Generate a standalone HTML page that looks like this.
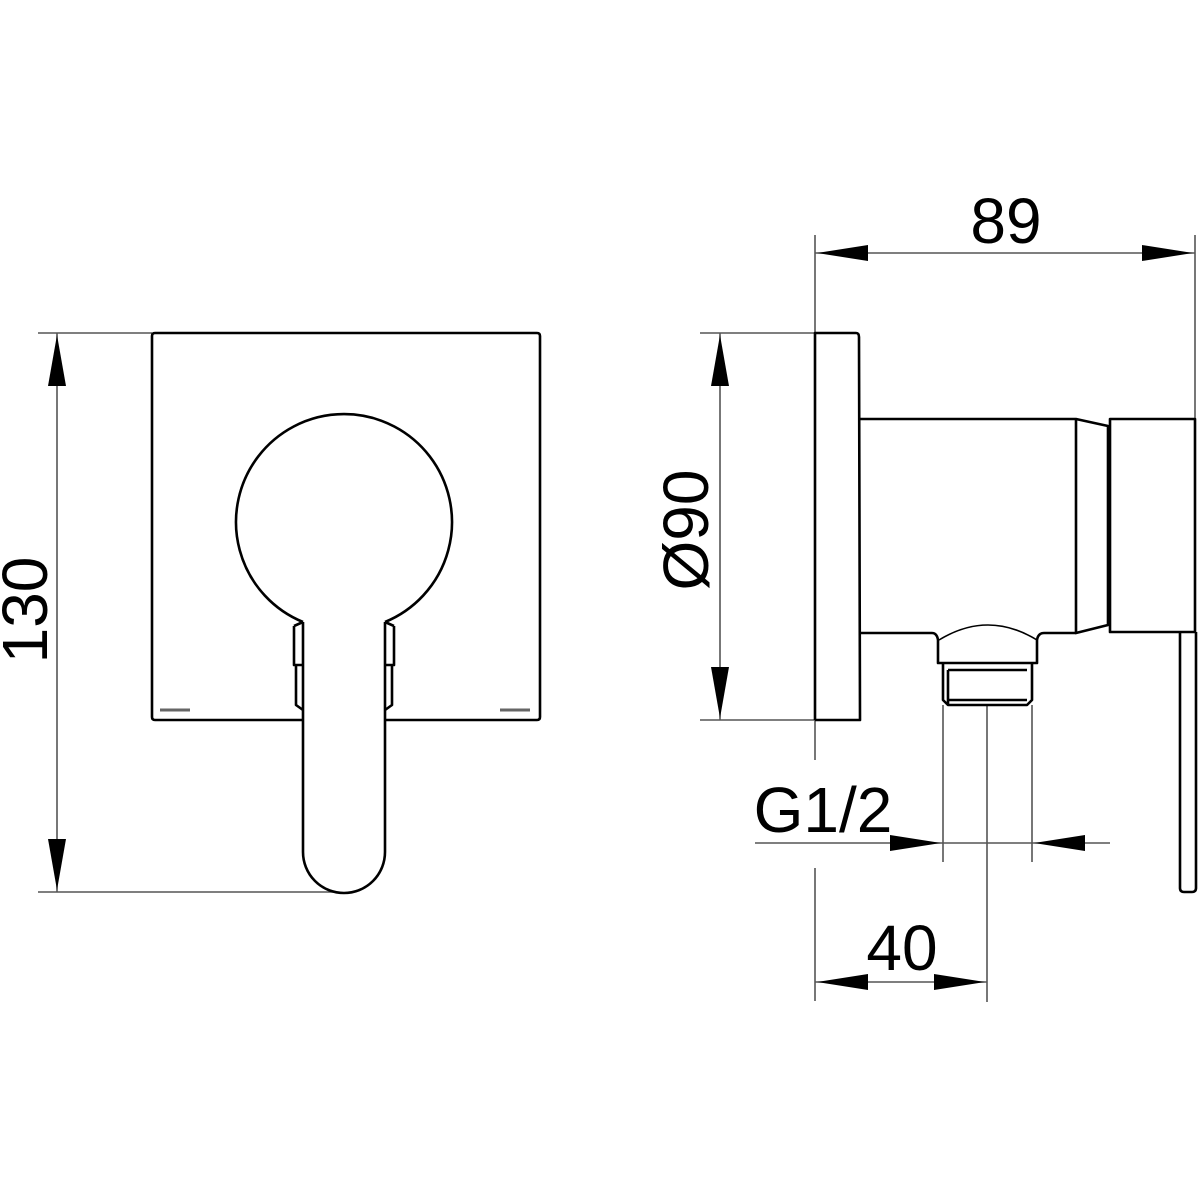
<!DOCTYPE html>
<html><head><meta charset="utf-8"><style>html,body{margin:0;padding:0;background:#fff}svg{display:block}</style></head>
<body>
<svg width="1200" height="1200" viewBox="0 0 1200 1200" xmlns="http://www.w3.org/2000/svg">
<rect width="1200" height="1200" fill="#fff"/>
<g fill="none" stroke="#555" stroke-width="1.6">
  <line x1="38" y1="333" x2="152" y2="333"/>
  <line x1="38" y1="892" x2="335" y2="892"/>
  <line x1="57" y1="333" x2="57" y2="892"/>
  <line x1="815" y1="235" x2="815" y2="760"/>
  <line x1="815" y1="868" x2="815" y2="1001"/>
  <line x1="1195" y1="235" x2="1195" y2="420"/>
  <line x1="815" y1="253" x2="1195" y2="253"/>
  <line x1="700" y1="333" x2="815" y2="333"/>
  <line x1="700" y1="720" x2="815" y2="720"/>
  <line x1="720" y1="333" x2="720" y2="720"/>
  <line x1="755" y1="843" x2="1110" y2="843"/>
  <line x1="943" y1="705" x2="943" y2="862"/>
  <line x1="1032" y1="705" x2="1032" y2="862"/>
  <line x1="987" y1="705" x2="987" y2="1002"/>
  <line x1="815" y1="982" x2="987" y2="982"/>
</g>
<g fill="#000">
  <polygon points="57,335 48,386 66,386"/>
  <polygon points="57,890 48,839 66,839"/>
  <polygon points="817,253 868,245 868,261"/>
  <polygon points="1193,253 1142,245 1142,261"/>
  <polygon points="720,335 711,386 729,386"/>
  <polygon points="720,718 711,667 729,667"/>
  <polygon points="941,843 890,835 890,851"/>
  <polygon points="1034,843 1085,835 1085,851"/>
  <polygon points="817,982 868,974 868,990"/>
  <polygon points="985,982 934,974 934,990"/>
</g>
<g font-family="Liberation Sans, sans-serif" font-size="64" fill="#000">
  <text x="1006" y="243" text-anchor="middle">89</text>
  <text x="823" y="832" text-anchor="middle">G1/2</text>
  <text x="902" y="970" text-anchor="middle">40</text>
  <text transform="translate(47,610) rotate(-90)" text-anchor="middle">130</text>
  <text transform="translate(708,530) rotate(-90)" text-anchor="middle">Ø90</text>
</g>
<g fill="none" stroke="#000" stroke-width="2.6" stroke-linejoin="round">
  <path d="M303,720 L155,720 Q152,720 152,717 L152,336 Q152,333 155,333 L537,333 Q540,333 540,336 L540,717 Q540,720 537,720 L385,720"/>
  <path d="M303,622 A108,108 0 1 1 385,622"/>
  <path d="M303,622 L303,852 A41,41 0 0 0 385,852 L385,622"/>
  <path d="M294,626 L303,622 M294,626 L294,665 L303,665 M296,665 L296,705 L303,710"/>
  <path d="M394,626 L385,622 M394,626 L394,665 L385,665 M392,665 L392,705 L385,710"/>
</g>
<g stroke="#666" stroke-width="3">
  <line x1="160" y1="710" x2="190" y2="710"/>
  <line x1="500" y1="710" x2="530" y2="710"/>
</g>
<g fill="none" stroke="#000" stroke-width="2.6" stroke-linejoin="round">
  <path d="M815,720 L815,333 L856,333 Q859,333 859,337 L860,720 L815,720"/>
  <path d="M860,419 L1076,419 L1108,426 L1108,625 L1076,633 L1076,419"/>
  <path d="M860,633 L932,633 Q937,633 938,640 L938,663 L1037,663 L1037,640 Q1038,633 1044,633 L1076,633"/>
  <path d="M939,640 Q988,610 1037,640" stroke-width="1.6"/>
  <path d="M943,663 L943,700 L948,705 L1027,705 L1032,700 L1032,663 M948,670 L1027,670 M948,670 L948,705 M948,700 L1027,700"/>
  <path d="M1110,419 L1195,419 L1195,632 L1110,632 Z"/>
  <path d="M1180,632 L1180,888 Q1180,892 1184,892 L1192,892 Q1196,892 1196,888 L1196,632"/>
</g>
</svg>
</body></html>
